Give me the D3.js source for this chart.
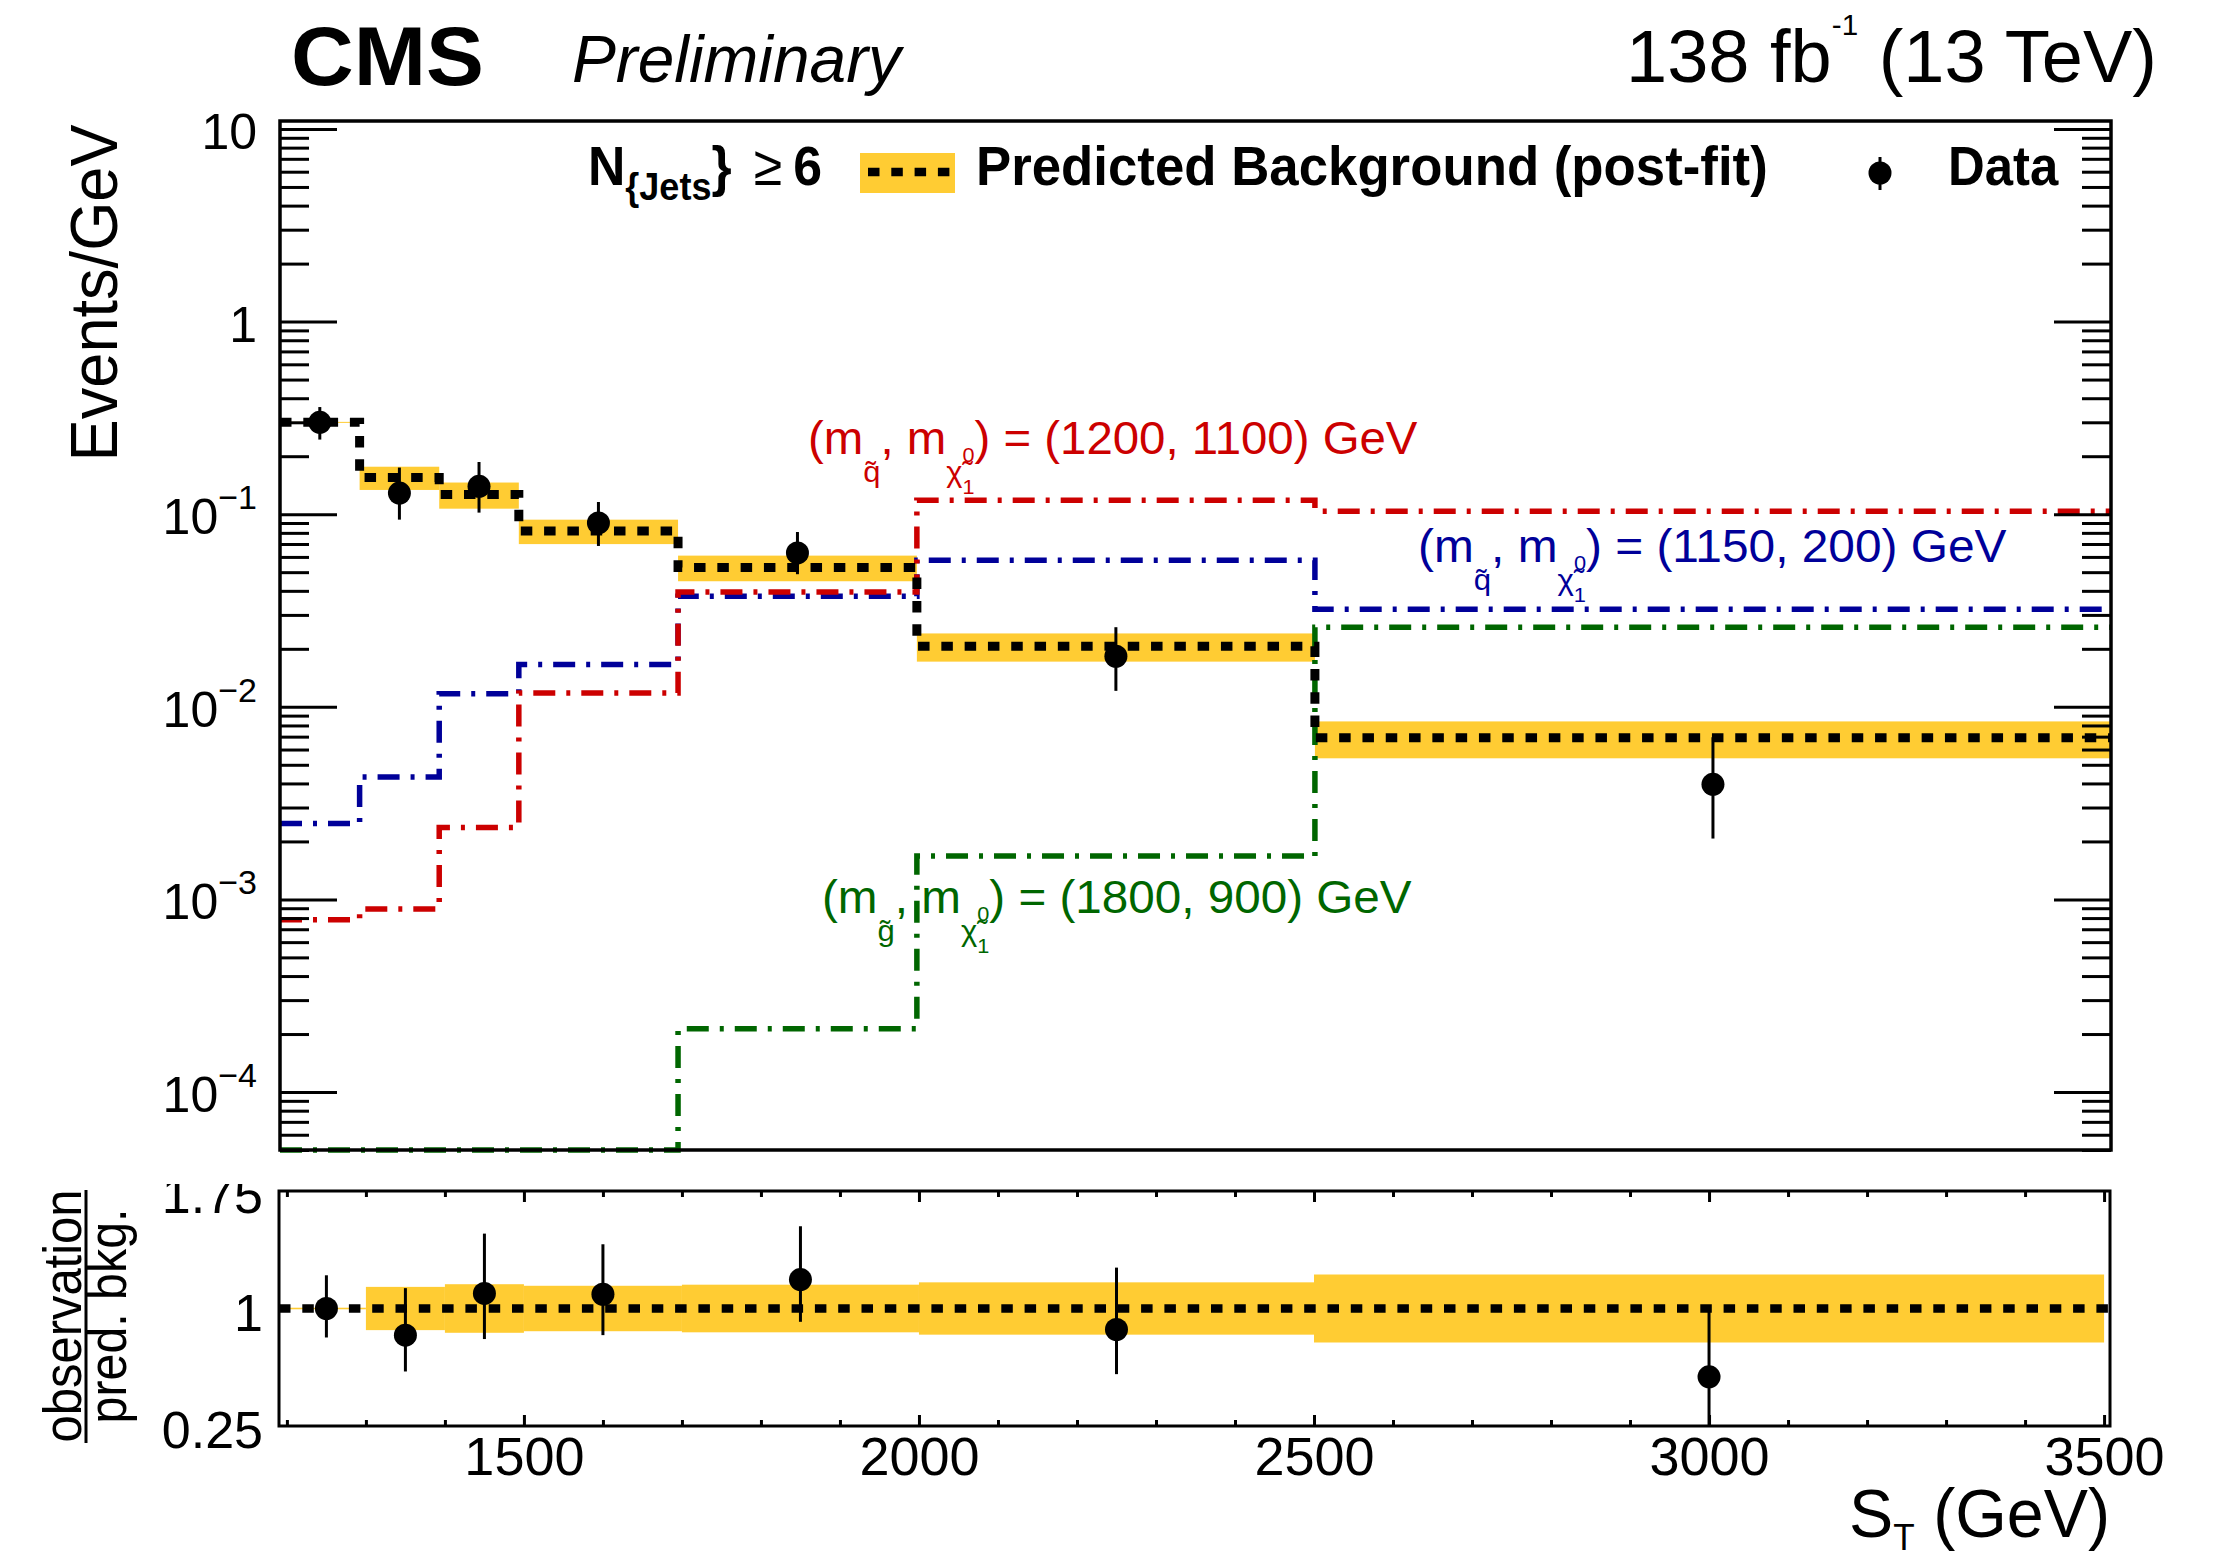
<!DOCTYPE html>
<html><head><meta charset="utf-8">
<script src="https://cdn.jsdelivr.net/npm/d3@7"></script>
<style>
html,body{margin:0;padding:0;background:#fff;}
svg{display:block;}
text{font-family:"Liberation Sans", Arial, Helvetica, sans-serif;}
</style></head>
<body><svg id="c" width="2223" height="1559"></svg>
<script>
// ---------------- data ----------------
const binEdges   = [1200,1300,1400,1500,1700,2000,2500,3500];
const binCenters = [1250,1350,1450,1600,1850,2250,3000];
const bkgPostFit = [0.300,0.155,0.1264,0.0818,0.0529,0.0206,0.0069];
const bkgRelUnc  = [0.005,0.138,0.155,0.145,0.152,0.167,0.217];
const dataVal    = [0.300,0.1288,0.1396,0.0901,0.0629,0.0183,0.00396];
const dataLow    = [0.244,0.0937,0.1019,0.0684,0.0488,0.0121,0.00207];
const dataHigh   = [0.360,0.1746,0.1866,0.1157,0.0808,0.0259,0.00695];
const ratioVal   = [1.0,0.830,1.096,1.091,1.185,0.866,0.564];
const ratioLow   = [0.815,0.598,0.805,0.830,0.915,0.581,0.25];
const ratioHigh  = [1.212,1.130,1.478,1.410,1.525,1.261,1.02];
const sigSq1200_1100 = [7.85e-4,8.92e-4,2.36e-3,0.0118,0.0394,0.118,0.1035];
const sigSq1150_200  = [2.48e-3,4.32e-3,0.0117,0.01656,0.0375,0.0577,0.0321];
const sigGl1800_900  = [5e-5,5e-5,5e-5,5e-5,2.13e-4,1.68e-3,0.0259];
const yMajorTicks = [1e-4,1e-3,1e-2,1e-1,1,10];
const yTickLabels = [["10","\u22124"],["10","\u22123"],["10","\u22122"],["10","\u22121"],["1",""],["10",""]];
const xTickLabels = [1500,2000,2500,3000,3500];
const ratioTicks = [0.25,1,1.75];
const ratioTickLabels = ["0.25","1","1.75"];

// ---------------- setup ----------------
const svg=d3.select("#c");
svg.append("rect").attr("width",2223).attr("height",1559).attr("fill","#fff");
const M={l:280,r:2111,t:121,b:1150};
const R={l:279,r:2110,t:1191,b:1426};
const xm=d3.scaleLinear().domain([1200,3500]).range([M.l,M.r]);
const ym=d3.scaleLog().domain([5e-5,11]).range([M.b,M.t]);
const xr=d3.scaleLinear().domain([1190,3507.5]).range([R.l,R.r]);
const yr=d3.scaleLinear().domain([0.25,1.75]).range([R.b,R.t]);
const YEL="#ffcc33", RED="#cc0000", BLUE="#000099", GREEN="#006600";
const n=binCenters.length;
const bins=d3.range(n).map(i=>({x0:binEdges[i],x1:binEdges[i+1],c:binCenters[i],b:bkgPostFit[i],u:bkgRelUnc[i]}));
const DOT="11.5 11.8", DASHDOT="22 11 4 11";

function rich(x,y,parts,o){
  const g=svg.append("g");
  const t=g.append("text").attr("x",0).attr("y",0)
    .attr("font-size",o.size).attr("fill",o.fill||"#000")
    .attr("font-weight",o.bold?"bold":"normal").attr("font-style",o.italic?"italic":"normal")
    .attr("text-anchor",o.anchor||"start");
  let cur=0;
  parts.forEach(p=>{
    const off=p.dy||0;
    const ts=t.append("tspan").text(p.t).attr("dy",off-cur);
    if(p.s) ts.attr("font-size",p.s);
    if(p.dx) ts.attr("dx",p.dx);
    if(p.w) ts.attr("font-weight",p.w);
    cur=off;
  });
  let sx=1;
  if(o.width){const w=t.node().getBBox().width; if(w>0) sx=o.width/w;}
  g.attr("transform",`translate(${x},${y})`+(o.rotate?` rotate(${o.rotate})`:"")+` scale(${sx},1)`);
  return g;
}

// ---------------- main panel ----------------
const gm=svg.append("g");
gm.selectAll("rect.band").data(bins).join("rect").attr("class","band")
  .attr("x",d=>xm(d.x0)).attr("width",d=>xm(d.x1)-xm(d.x0))
  .attr("y",d=>ym(d.b*(1+d.u))).attr("height",d=>Math.max(1,ym(d.b*(1-d.u))-ym(d.b*(1+d.u))))
  .attr("fill",YEL);

const stepPts=vals=>binEdges.map((e,i)=>[e, vals[Math.min(i,n-1)]]);
const lineM=d3.line().x(d=>xm(d[0])).y(d=>ym(d[1])).curve(d3.curveStepAfter);
[[sigGl1800_900,GREEN],[sigSq1150_200,BLUE],[sigSq1200_1100,RED]].forEach(([v,c])=>{
  gm.append("path").attr("d",lineM(stepPts(v))).attr("fill","none").attr("stroke",c)
    .attr("stroke-width",5.5).attr("stroke-dasharray",DASHDOT);
});
gm.append("path").attr("d",lineM(stepPts(bkgPostFit))).attr("fill","none").attr("stroke","#000")
  .attr("stroke-width",9).attr("stroke-dasharray",DOT);

gm.selectAll("line.err").data(d3.range(n)).join("line").attr("class","err")
  .attr("x1",i=>xm(binCenters[i])).attr("x2",i=>xm(binCenters[i]))
  .attr("y1",i=>ym(dataLow[i])).attr("y2",i=>ym(dataHigh[i]))
  .attr("stroke","#000").attr("stroke-width",3);
gm.selectAll("circle.pt").data(d3.range(n)).join("circle").attr("class","pt")
  .attr("cx",i=>xm(binCenters[i])).attr("cy",i=>ym(dataVal[i])).attr("r",11.5).attr("fill","#000");

// axes main
const minorY=ym.ticks().filter(v=>Math.abs(Math.log10(v)-Math.round(Math.log10(v)))>1e-6);
function styleAx(s){s.select(".domain").remove(); s.selectAll(".tick line").attr("stroke","#000").attr("stroke-width",3);}
svg.append("g").attr("transform",`translate(${M.l},0)`).call(d3.axisLeft(ym).tickValues(yMajorTicks).tickSize(-57).tickFormat("")).call(styleAx);
svg.append("g").attr("transform",`translate(${M.l},0)`).call(d3.axisLeft(ym).tickValues(minorY).tickSize(-29).tickFormat("")).call(styleAx);
svg.append("g").attr("transform",`translate(${M.r},0)`).call(d3.axisRight(ym).tickValues(yMajorTicks).tickSize(-57).tickFormat("")).call(styleAx);
svg.append("g").attr("transform",`translate(${M.r},0)`).call(d3.axisRight(ym).tickValues(minorY).tickSize(-29).tickFormat("")).call(styleAx);
svg.append("rect").attr("x",M.l).attr("y",M.t).attr("width",M.r-M.l).attr("height",M.b-M.t)
  .attr("fill","none").attr("stroke","#000").attr("stroke-width",3.5);
yMajorTicks.forEach((v,i)=>{
  const [b,e]=yTickLabels[i];
  const parts=[{t:b}]; if(e) parts.push({t:e,s:34,dy:-25});
  rich(257, ym(v)+20, parts, {size:50, anchor:"end"});
});

// ---------------- ratio panel ----------------
const gr=svg.append("g");
gr.selectAll("rect.band").data(bins).join("rect").attr("class","band")
  .attr("x",d=>xr(d.x0)).attr("width",d=>xr(d.x1)-xr(d.x0))
  .attr("y",d=>yr(1+d.u)).attr("height",d=>Math.max(1,yr(1-d.u)-yr(1+d.u)))
  .attr("fill",YEL);
gr.append("line").attr("x1",R.l).attr("x2",R.r).attr("y1",yr(1)).attr("y2",yr(1))
  .attr("stroke","#000").attr("stroke-width",8.5).attr("stroke-dasharray",DOT);
gr.selectAll("line.err").data(d3.range(n)).join("line").attr("class","err")
  .attr("x1",i=>xr(binCenters[i])).attr("x2",i=>xr(binCenters[i]))
  .attr("y1",i=>yr(Math.max(0.25,ratioLow[i]))).attr("y2",i=>yr(Math.min(1.75,ratioHigh[i])))
  .attr("stroke","#000").attr("stroke-width",3);
gr.selectAll("circle.pt").data(d3.range(n)).join("circle").attr("class","pt")
  .attr("cx",i=>xr(binCenters[i])).attr("cy",i=>yr(ratioVal[i])).attr("r",11.5).attr("fill","#000");

const allX=d3.range(1200,3501,100);
const minorX=allX.filter(v=>!xTickLabels.includes(v));
svg.append("g").attr("transform",`translate(0,${R.t})`).call(d3.axisTop(xr).tickValues(minorX).tickSize(-6).tickFormat("")).call(styleAx);
svg.append("g").attr("transform",`translate(0,${R.t})`).call(d3.axisTop(xr).tickValues(xTickLabels).tickSize(-11).tickFormat("")).call(styleAx);
svg.append("g").attr("transform",`translate(0,${R.b})`).call(d3.axisBottom(xr).tickValues(minorX).tickSize(-6).tickFormat("")).call(styleAx);
const xb=svg.append("g").attr("transform",`translate(0,${R.b})`).call(d3.axisBottom(xr).tickValues(xTickLabels).tickSize(-11).tickFormat(d3.format("d"))).call(styleAx);
xb.selectAll(".tick text").attr("y",49).attr("dy",0).attr("font-size",54).attr("fill","#000")
  .attr("font-family","'Liberation Sans', Arial, sans-serif");
svg.append("rect").attr("x",R.l).attr("y",R.t).attr("width",R.r-R.l).attr("height",R.b-R.t)
  .attr("fill","none").attr("stroke","#000").attr("stroke-width",3);

// ratio y labels, clipped at the pad top like the reference
const defs=svg.append("defs");
defs.append("clipPath").attr("id","rclip").append("rect")
  .attr("x",-300).attr("y",1184).attr("width",300).attr("height",360);
const yl=svg.append("g").attr("transform",`translate(${R.l},0)`).attr("clip-path","url(#rclip)")
  .call(d3.axisLeft(yr).tickValues(ratioTicks).tickSize(0).tickPadding(16).tickFormat((d,i)=>ratioTickLabels[i]));
yl.select(".domain").remove();
yl.selectAll(".tick text").attr("font-size",52).attr("dy","0.42em").attr("fill","#000")
  .attr("font-family","'Liberation Sans', Arial, sans-serif");

// ---------------- texts ----------------
rich(291,85,[{t:"CMS"}],{size:84,bold:true,width:193});
rich(572,82,[{t:"Preliminary"}],{size:66,italic:true,width:333});
rich(2157,82,[{t:"138 fb"},{t:"-1",s:30,dy:-47},{t:" (13 TeV)",dy:0}],{size:75,anchor:"end",width:531});
rich(117,124.5,[{t:"Events/GeV"}],{size:66,anchor:"end",rotate:-90,width:337});
rich(2110,1537,[{t:"S"},{t:"T",s:36,dy:13},{t:" (GeV)",dy:0}],{size:68,anchor:"end",width:261});
rich(81,1316,[{t:"observation"}],{size:53,anchor:"middle",rotate:-90,width:253});
rich(126,1316,[{t:"pred. bkg."}],{size:53,anchor:"middle",rotate:-90,width:215});
svg.append("line").attr("x1",86).attr("x2",86).attr("y1",1190).attr("y2",1443).attr("stroke","#000").attr("stroke-width",3);

// legend
rich(588,185,[{t:"N"},{t:"{Jets",s:39,dy:15},{t:"}",dy:0},{t:"\u2265",dx:24,w:"normal"},{t:"6",dx:12}],{size:56,bold:true,width:234});
svg.append("rect").attr("x",860).attr("y",153).attr("width",95).attr("height",40).attr("fill",YEL);
svg.append("line").attr("x1",860).attr("x2",955).attr("y1",172).attr("y2",172)
  .attr("stroke","#000").attr("stroke-width",8.5).attr("stroke-dasharray",DOT).attr("stroke-dashoffset",-8);
rich(976,185,[{t:"Predicted Background (post-fit)"}],{size:56,bold:true,width:792});
svg.append("line").attr("x1",1880).attr("x2",1880).attr("y1",157).attr("y2",190).attr("stroke","#000").attr("stroke-width",3);
svg.append("circle").attr("cx",1880).attr("cy",173).attr("r",11.5).attr("fill","#000");
rich(1948,185,[{t:"Data"}],{size:56,bold:true,width:111});

// signal labels
const chiParts=(m1,rest)=>[{t:"(m"},{t:m1,s:30,dy:28},{t:", m",dy:0},{t:"\u03C7\u0303",s:30,dy:28},{t:"0",s:21,dy:8},{t:"1",s:21,dy:40,dx:-11.7},{t:rest,dy:0}];
rich(808,454,chiParts("q\u0303",") = (1200, 1100) GeV"),{size:46,fill:RED,width:610});
rich(1418,562,chiParts("q\u0303",") = (1150, 200) GeV"),{size:46,fill:BLUE,width:589});
rich(822,913,chiParts("g\u0303",") = (1800, 900) GeV"),{size:46,fill:GREEN,width:590});
</script>
</body></html>
